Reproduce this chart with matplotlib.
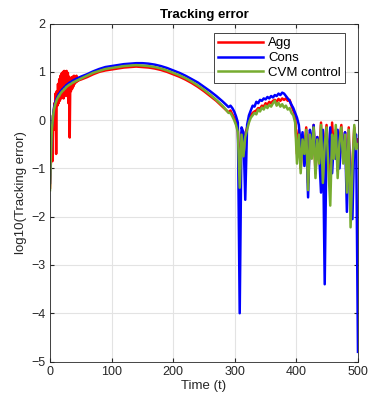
import numpy as np
import matplotlib
matplotlib.use("Agg")
import matplotlib.pyplot as plt

plt.rcParams['font.family'] = ['Liberation Sans', 'DejaVu Sans']

# time grid: fine at start, coarse on the arc, fine in the noisy tail
t = np.concatenate([np.arange(0, 51, 1), np.arange(60, 291, 10), np.arange(293, 501, 3)])

# log10 tracking error
agg = [-1.4, -1.0, -0.75, -0.3, -0.85, 0.1, -0.2, 0.35, 0.1, 0.55, -0.7, 0.6, 0.3, 0.75, 0.35,
       0.85, 0.4, 0.92, 0.45, 0.97, 0.5, 1.0, 0.45, 1.02, 0.55, 1.0, 0.5, 1.02, 0.6, 0.98, 0.35,
       0.9, -0.36, 0.85, 0.6, 0.88, 0.65, 0.9, 0.7, 0.92, 0.75, 0.9, 0.78, 0.92, 0.8, 0.88, 0.82,
       0.86, 0.83, 0.85, 0.84,
       0.89, 0.95, 1.0, 1.03, 1.05, 1.07, 1.09, 1.1, 1.11, 1.1, 1.09, 1.07, 1.04, 1.0, 0.95, 0.9,
       0.84, 0.77, 0.69, 0.6, 0.5, 0.4, 0.28, 0.16,
       0.2, 0.12, 0.05, -0.05, -0.2, -1.2, -0.25, -0.7, -0.3, -0.15, 0.0, 0.1, 0.15, 0.18, 0.2,
       0.25, 0.24, 0.3, 0.28, 0.35, 0.32, 0.38, 0.35, 0.4, 0.42, 0.38, 0.44, 0.4, 0.45, 0.42,
       0.45, 0.4, 0.42, 0.3, 0.2, 0.1, -0.7, -0.2, -1.0, -0.35, -0.6, -0.15, -1.3, -0.25, -0.7,
       -0.1, -1.1, -0.35, -0.8, -0.05, -1.2, -0.45, -0.1, -0.9, -1.26, -0.05, -0.7, -0.2, -1.05,
       -0.4, -0.1, -0.8, -0.25, -1.3, -0.15, -1.8, -0.9, -0.15, -0.5, -0.4]

cons = [-1.3, -0.85, -0.5, -0.15, -0.02, 0.12, 0.22, 0.29, 0.34, 0.39, 0.42, 0.46, 0.49, 0.51,
        0.54, 0.55, 0.57, 0.59, 0.61, 0.62, 0.64, 0.65, 0.66, 0.68, 0.69, 0.7, 0.72, 0.73, 0.74,
        0.75, 0.76, 0.77, 0.78, 0.78, 0.79, 0.8, 0.81, 0.82, 0.82, 0.83, 0.84, 0.84, 0.85, 0.86,
        0.86, 0.87, 0.87, 0.88, 0.89, 0.89, 0.9,
        0.95, 1.01, 1.06, 1.1, 1.12, 1.14, 1.16, 1.17, 1.18, 1.18, 1.17, 1.15, 1.12, 1.08, 1.03,
        0.98, 0.92, 0.85, 0.78, 0.69, 0.6, 0.5, 0.39, 0.27,
        0.3, 0.25, 0.18, 0.08, -0.05, -4.0, -0.15, -0.25, -1.65, -0.1, 0.1, 0.2, 0.3, 0.28, 0.38,
        0.35, 0.42, 0.4, 0.45, 0.43, 0.48, 0.45, 0.5, 0.47, 0.52, 0.5, 0.55, 0.52, 0.57, 0.55,
        0.5, 0.45, 0.4, 0.32, 0.25, 0.15, 0.05, -0.1, -0.55, -0.25, -0.95, -0.3, -1.6, -0.2, -0.6,
        -0.1, -0.9, -0.35, -0.7, -1.5, -0.2, -3.4, -0.3, -0.9, -0.15, -1.1, -0.4, -0.8, -0.2,
        -1.0, -0.3, -0.7, -0.25, -1.9, -0.4, -1.2, -2.05, -0.35, -0.3, -4.8]

cvm = [-1.45, -0.9, -0.55, -0.2, -0.05, 0.08, 0.18, 0.25, 0.3, 0.35, 0.38, 0.42, 0.45, 0.47,
       0.5, 0.5, 0.53, 0.55, 0.57, 0.58, 0.6, 0.61, 0.62, 0.64, 0.65, 0.66, 0.68, 0.69, 0.7,
       0.71, 0.72, 0.73, 0.74, 0.74, 0.75, 0.76, 0.77, 0.78, 0.78, 0.79, 0.8, 0.8, 0.81, 0.82,
       0.82, 0.83, 0.83, 0.84, 0.85, 0.85, 0.86,
       0.92, 0.98, 1.02, 1.06, 1.08, 1.1, 1.12, 1.13, 1.14, 1.13, 1.12, 1.1, 1.07, 1.03, 0.98,
       0.93, 0.87, 0.8, 0.72, 0.63, 0.53, 0.42, 0.3, 0.15,
       0.15, 0.08, 0.0, -0.1, -0.25, -1.4, -0.3, -0.75, -0.35, -0.2, -0.05, 0.05, 0.1, 0.15, 0.12,
       0.22, 0.18, 0.26, 0.22, 0.3, 0.25, 0.32, 0.28, 0.35, 0.4, 0.3, 0.36, 0.28, 0.33, 0.26,
       0.3, 0.22, 0.25, 0.15, 0.1, -0.05, -0.9, -0.3, -1.1, -0.4, -0.7, -0.2, -1.45, -0.3, -0.8,
       -0.15, -1.2, -0.4, -0.9, -0.1, -1.3, -0.5, -0.15, -1.0, -1.77, -0.3, -0.8, -0.1, -1.2,
       -0.45, -0.15, -0.9, -0.3, -1.5, -0.2, -2.22, -1.0, -0.1, -0.6, -0.5]

labels = ['Agg', 'Cons', 'CVM control']
colors = ['#ff0000', '#0000ff', '#77ac30']

fig = plt.figure(figsize=(3.70, 3.98), dpi=100)
ax = fig.add_axes([0.1351, 0.0917, 0.8324, 0.849])

for y, lab, c in zip([agg, cons, cvm], labels, colors):
    ax.plot(t, y, color=c, lw=1.8, label=lab)

ax.set_xlim(0, 500)
ax.set_ylim(-5, 2)
ax.set_xticks([0, 100, 200, 300, 400, 500])
ax.set_yticks([-5, -4, -3, -2, -1, 0, 1, 2])
ax.grid(True, color='#e3e3e3', lw=0.8)
ax.set_axisbelow(True)
ax.tick_params(direction='in', top=True, right=True, labelsize=9, length=3,
               color='#262626', labelcolor='#262626')
for s in ax.spines.values():
    s.set_color('#262626')
    s.set_linewidth(0.6)

ax.set_title('Tracking error', fontsize=9.5, fontweight='bold', pad=4)
ax.set_xlabel('Time (t)', fontsize=9.5, labelpad=1, color='#262626')
ax.set_ylabel('log10(Tracking error)', fontsize=9.5, labelpad=3, color='#262626')

leg = ax.legend(loc='upper right', bbox_to_anchor=(0.958, 0.972), fontsize=9.5,
                fancybox=False, edgecolor='#262626', framealpha=1, borderpad=0.3,
                handlelength=3.4, handletextpad=0.4, labelspacing=0.2, borderaxespad=0)
leg.get_frame().set_linewidth(0.6)

fig.savefig('out.png', dpi=100)
